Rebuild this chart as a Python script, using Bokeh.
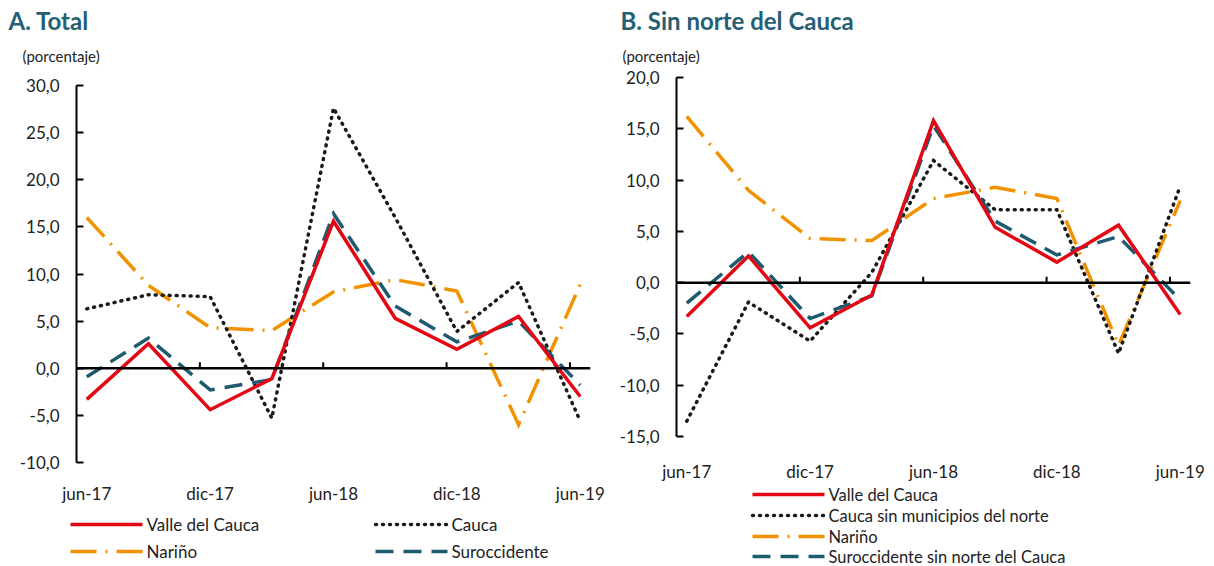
from bokeh.plotting import figure
from bokeh.layouts import row, column
from bokeh.models import Span, FixedTicker, CustomJSTickFormatter, Range1d
from bokeh.core.properties import value
from bokeh.embed import file_html
from bokeh.resources import INLINE

# ---------------- data ----------------
periods = ["jun-17", "sep-17", "dic-17", "mar-18", "jun-18", "sep-18", "dic-18", "mar-19", "jun-19"]
xtick_labels = ["jun-17", "dic-17", "jun-18", "dic-18", "jun-19"]

# Panel A. Total
a_valle = [-3.3, 2.6, -4.4, -1.1, 15.6, 5.3, 2.0, 5.5, -3.0]
a_cauca = [6.3, 7.8, 7.6, -5.3, 27.6, 16.0, 3.9, 9.1, -5.6]
a_narino = [16.0, 8.8, 4.3, 4.0, 8.1, 9.4, 8.2, -6.0, 8.9]
a_suro = [-0.9, 3.2, -2.3, -1.2, 16.4, 6.6, 2.8, 5.0, -1.8]

# Panel B. Sin norte del Cauca
b_valle = [-3.3, 2.6, -4.4, -1.2, 15.8, 5.4, 2.0, 5.6, -3.1]
b_cauca = [-13.5, -1.9, -5.7, 1.0, 11.9, 7.1, 7.1, -6.9, 9.4]
b_narino = [16.2, 9.0, 4.3, 4.1, 8.2, 9.3, 8.2, -6.1, 8.0]
b_suro = [-2.0, 3.0, -3.5, -1.3, 15.3, 6.0, 2.7, 4.5, -1.7]

# ---------------- style ----------------
FONT = "Lato"
RED = "#E30613"
BLACK = "#1a1a1a"
ORANGE = "#F39200"
TEAL = "#1F5B6E"
TITLE_COL = "#265F73"
TXT = "#222222"
DOT = "1 6"
STYLES = {
    "valle": (RED, "solid"),
    "cauca": (BLACK, DOT),
    "narino": (ORANGE, "26 9 2 9"),
    "suro": (TEAL, "18 10"),
}
LW = 3.5

xs = [3 * i for i in range(len(periods))]
label_pos = [periods.index(l) * 3 for l in xtick_labels]


def blank(width, height):
    p = figure(width=width, height=height, x_range=Range1d(0, width), y_range=Range1d(height, 0),
               x_axis_type=None, y_axis_type=None, output_backend="svg", toolbar_location=None,
               min_border=0, min_border_left=0, min_border_right=0, min_border_top=0,
               min_border_bottom=0, frame_align=False)
    p.outline_line_color = None
    p.grid.visible = False
    return p


def header(width, height, title, title_xy, pct_xy):
    p = blank(width, height)
    p.text(x=[title_xy[0]], y=[title_xy[1]], text=[title], text_font=value(FONT),
           text_font_style="bold", text_font_size="24px", text_color=TITLE_COL,
           text_baseline="middle", text_align="left")
    p.text(x=[pct_xy[0]], y=[pct_xy[1]], text=["(porcentaje)"], text_font=value(FONT),
           text_font_size="15px", text_color=TXT, text_baseline="middle", text_align="left")
    return p


def legend_fig(width, height, entries, size="17px"):
    # entries: list of (label, style_key, x_glyph, y_row)
    p = blank(width, height)
    for lab, key, gx, gy in entries:
        color, dash = STYLES[key]
        p.line([gx, gx + 72], [gy, gy], line_color=color, line_width=LW, line_dash=dash,
               line_cap="round" if dash == DOT else "butt")
        p.text(x=[gx + 76], y=[gy], text=[lab], text_font=value(FONT), text_font_size=size,
               text_color=TXT, text_baseline="middle", text_align="left")
    return p


def chart(width, height, bl, br, bt, bb, y0, y1, ystep, series, x_standoff):
    p = figure(width=width, height=height, x_range=(xs[0] - 0.5, xs[-1] + 0.5),
               y_range=(y0, y1), output_backend="svg", toolbar_location=None,
               min_border_left=bl, min_border_right=br, min_border_top=bt, min_border_bottom=bb,
               frame_align=False)
    p.outline_line_color = None
    p.grid.visible = False

    yticks = list(range(y0, y1 + 1, ystep))
    p.yaxis.ticker = FixedTicker(ticks=yticks)
    p.yaxis.formatter = CustomJSTickFormatter(code="return tick.toFixed(1).replace('.', ',');")
    p.yaxis.axis_line_width = 2
    p.yaxis.axis_line_color = "black"
    p.yaxis.major_tick_in = 7
    p.yaxis.major_tick_out = 0
    p.yaxis.major_tick_line_width = 2
    p.yaxis.minor_tick_line_color = None
    p.yaxis.major_label_standoff = 17

    p.xaxis.ticker = FixedTicker(ticks=label_pos)
    p.xaxis.major_label_overrides = {pos: lab for pos, lab in zip(label_pos, xtick_labels)}
    p.xaxis.axis_line_color = None
    p.xaxis.major_tick_line_color = None
    p.xaxis.minor_tick_line_color = None
    p.xaxis.major_label_standoff = x_standoff

    for ax in p.axis:
        ax.major_label_text_font = FONT
        ax.major_label_text_font_size = "17px"
        ax.major_label_text_color = TXT

    p.add_layout(Span(location=0, dimension="width", line_color="black", line_width=2.5))
    frame_h = height - bt - bb
    tick_len = 6 * (y1 - y0) / frame_h
    tx = [pos - 0.5 for pos in label_pos[1:]]
    p.segment(x0=tx, y0=[0] * len(tx), x1=tx, y1=[tick_len] * len(tx),
              line_color="black", line_width=2)

    for vals, key in series:
        color, dash = STYLES[key]
        p.line(xs, vals, line_color=color, line_width=LW, line_dash=dash,
               line_cap="round" if dash == DOT else "butt", line_join="miter")
    return p


# ---------------- panel A ----------------
WA = 606
ha = header(WA, 73, "A. Total", (8, 20), (22, 55))
ca = chart(WA, 433, 76, 16, 12, 36, -10, 30, 5,
           [(a_narino, "narino"), (a_cauca, "cauca"), (a_suro, "suro"), (a_valle, "valle")], 14)
la = legend_fig(WA, 60, [("Valle del Cauca", "valle", 70, 18), ("Cauca", "cauca", 375, 18),
                         ("Nariño", "narino", 70, 45), ("Suroccidente", "suro", 375, 45)])

# ---------------- panel B ----------------
WB = 608
hb = header(WB, 65, "B. Sin norte del Cauca", (14, 20), (16, 55))
cb = chart(WB, 419, 70, 24, 12, 37, -15, 20, 5,
           [(b_narino, "narino"), (b_cauca, "cauca"), (b_suro, "suro"), (b_valle, "valle")], 18)
lb = legend_fig(WB, 82, [("Valle del Cauca", "valle", 146, 10),
                         ("Cauca sin municipios del norte", "cauca", 146, 31),
                         ("Nariño", "narino", 146, 52),
                         ("Suroccidente sin norte del Cauca", "suro", 146, 72)], "16.5px")

layout = row(column(ha, ca, la), column(hb, cb, lb))
open("out.html", "w").write(file_html(layout, INLINE))
